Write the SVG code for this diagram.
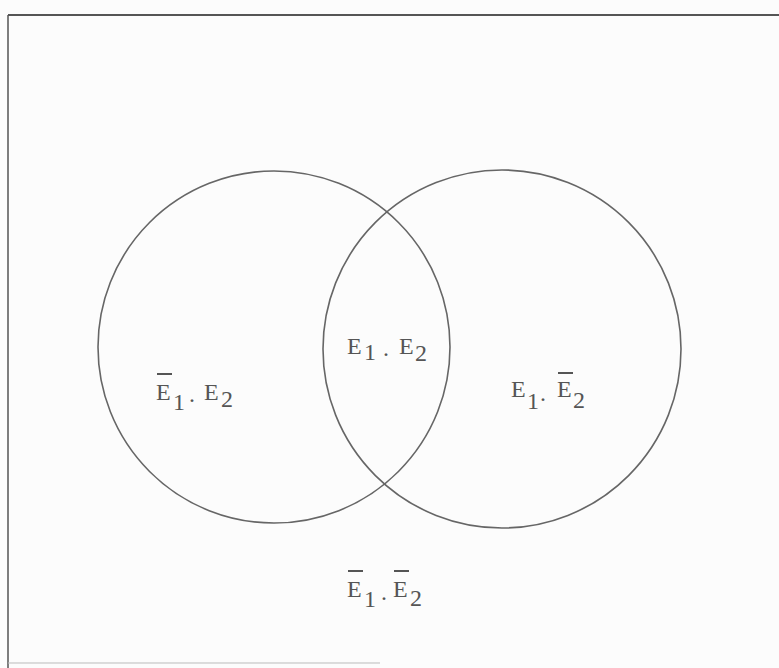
<svg xmlns="http://www.w3.org/2000/svg" width="779" height="668" viewBox="0 0 779 668">
  <style>
    .frame { stroke: #555; fill: none; }
    .circ { stroke: #666; stroke-width: 1.6; fill: none; }
    .lbl { font-family: "Liberation Serif", "DejaVu Serif", serif; font-size: 24px; fill: #555; }
    .bar { stroke: #555; stroke-width: 2; }
  </style>
  <rect x="0" y="0" width="779" height="668" fill="#fcfcfc"/>
  <g id="frame">
    <line class="frame" x1="8" y1="15" x2="779" y2="15" stroke-width="2"/>
    <line class="frame" x1="8" y1="15" x2="8" y2="668" stroke-width="1.5"/>
    <line x1="8" y1="663" x2="380" y2="663" stroke="#bbb" stroke-width="1"/>
  </g>
  <g id="circle-E1">
    <circle class="circ" cx="274" cy="347" r="176"/>
  </g>
  <g id="circle-E2">
    <circle class="circ" cx="502" cy="349" r="179"/>
  </g>
  <g id="label-notE1-E2">
    <line class="bar" x1="157" y1="374" x2="172" y2="374"/>
    <text class="lbl" x="156" y="400">E</text>
    <text class="lbl" x="173" y="410">1</text>
    <text class="lbl" x="189" y="402">.</text>
    <text class="lbl" x="204" y="400">E</text>
    <text class="lbl" x="221" y="407">2</text>
  </g>
  <g id="label-E1-E2">
    <text class="lbl" x="347" y="354">E</text>
    <text class="lbl" x="364" y="360">1</text>
    <text class="lbl" x="383" y="356">.</text>
    <text class="lbl" x="399" y="354">E</text>
    <text class="lbl" x="415" y="361">2</text>
  </g>
  <g id="label-E1-notE2">
    <text class="lbl" x="511" y="397">E</text>
    <text class="lbl" x="527" y="409">1</text>
    <text class="lbl" x="540" y="401">.</text>
    <line class="bar" x1="558" y1="373" x2="573" y2="373"/>
    <text class="lbl" x="557" y="397">E</text>
    <text class="lbl" x="573" y="408">2</text>
  </g>
  <g id="label-notE1-notE2">
    <line class="bar" x1="348" y1="571" x2="363" y2="571"/>
    <text class="lbl" x="347" y="597">E</text>
    <text class="lbl" x="364" y="607">1</text>
    <text class="lbl" x="381" y="600">.</text>
    <line class="bar" x1="394" y1="571" x2="409" y2="571"/>
    <text class="lbl" x="393" y="597">E</text>
    <text class="lbl" x="410" y="606">2</text>
  </g>
  <g id="connectors"/>
</svg>
